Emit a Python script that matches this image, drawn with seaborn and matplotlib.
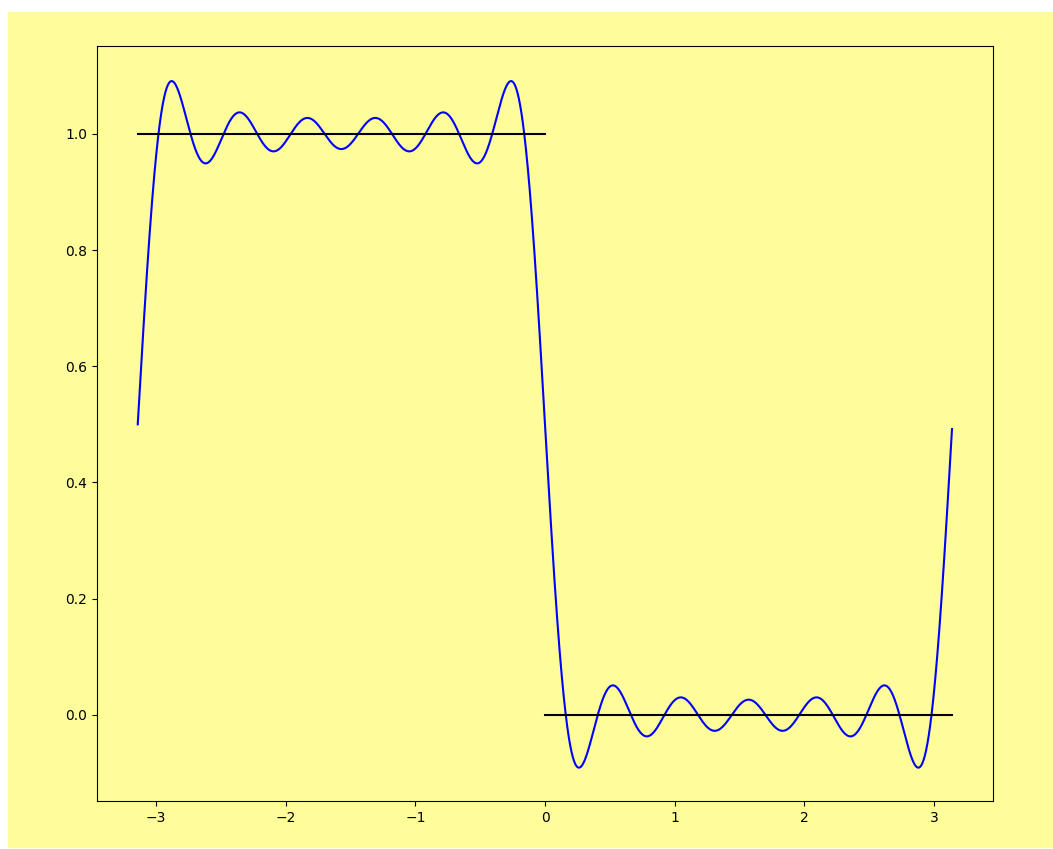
import numpy as np
import pandas as pd
import matplotlib
matplotlib.use('Agg')
import matplotlib.pyplot as plt
import seaborn as sns

# Fourier partial sum of the square wave (1 on [-pi,0), 0 on [0,pi))
offset = 0.5
harmonics = [1, 3, 5, 7, 9, 11]
coefs = [-2 / (np.pi * k) for k in harmonics]

# target square wave, two flat pieces
left_x = [-np.pi, 0.0]
left_y = [1.0, 1.0]
right_x = [0.0, np.pi]
right_y = [0.0, 0.0]

x = np.linspace(-np.pi, np.pi, 3000, endpoint=False)
y = offset + sum(c * np.sin(k * x) for c, k in zip(coefs, harmonics))
df = pd.DataFrame({'x': x, 'y': y})

yellow = '#fffd99'
fig = plt.figure(figsize=(10.53, 8.49), dpi=100, facecolor='white')
# yellow backdrop (screenshot has a thin white border top/left)
bg = plt.Rectangle((8 / 1053, 2 / 849), 1 - 8 / 1053, 835 / 849,
                   transform=fig.transFigure, color=yellow, zorder=-10)
fig.add_artist(bg)
ax = fig.add_axes([97 / 1053, 48 / 849, 896 / 1053, 755 / 849])
ax.set_facecolor(yellow)

sns.lineplot(data=df, x='x', y='y', color='blue', linewidth=1.5, ax=ax)
sns.lineplot(x=left_x, y=left_y, color='black', linewidth=1.5, ax=ax)
sns.lineplot(x=right_x, y=right_y, color='black', linewidth=1.5, ax=ax)

ax.set_xlabel('')
ax.set_ylabel('')
ax.set_xlim(-np.pi * 1.1, np.pi * 1.1)
ax.set_ylim(-0.148, 1.151)

fig.savefig('out.png', dpi=100, facecolor='white')
